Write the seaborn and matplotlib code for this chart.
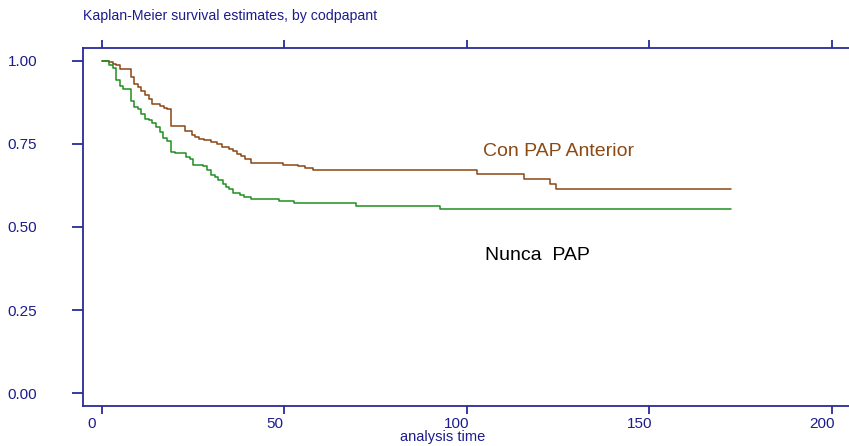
import matplotlib
matplotlib.use("Agg")
import matplotlib.pyplot as plt
import numpy as np
import pandas as pd
import seaborn as sns
from matplotlib import font_manager
from matplotlib.transforms import ScaledTranslation

# ---------------- data ----------------
group_names = ["Con PAP Anterior", "Nunca PAP"]
group_labels = ["Con PAP Anterior", "Nunca  PAP"]

con_time = [0, 2.0, 3.1, 3.8, 4.9, 7.9, 8.8, 9.9, 10.6, 11.9, 12.8, 13.7, 15.8,
            17.0, 17.9, 18.8, 22.7, 24.6, 25.6, 26.7, 27.9, 29.9, 31.6, 32.8,
            34.7, 35.8, 37.0, 38.1, 39.2, 40.9, 49.7, 53.6, 55.5, 57.7, 102.7,
            115.6, 122.7, 124.5]
con_surv = [1.0, 0.996, 0.992, 0.988, 0.976, 0.952, 0.931, 0.922, 0.910, 0.896,
            0.886, 0.870, 0.865, 0.859, 0.855, 0.803, 0.788, 0.778, 0.771, 0.765,
            0.761, 0.757, 0.751, 0.741, 0.734, 0.728, 0.721, 0.714, 0.704, 0.693,
            0.687, 0.683, 0.678, 0.672, 0.660, 0.645, 0.629, 0.613]

nunca_time = [0, 2.0, 3.1, 3.8, 4.9, 5.8, 7.9, 8.8, 9.9, 10.8, 11.9, 12.8, 13.8,
              14.9, 15.8, 16.7, 17.8, 18.8, 19.9, 22.9, 24.0, 24.9, 27.8, 28.7,
              29.9, 30.9, 31.7, 33.1, 34.0, 34.9, 36.0, 37.9, 39.0, 40.8, 48.6,
              52.7, 69.7, 92.7]
nunca_surv = [1.0, 0.989, 0.980, 0.942, 0.926, 0.916, 0.880, 0.862, 0.855, 0.840,
              0.825, 0.821, 0.812, 0.800, 0.786, 0.769, 0.759, 0.726, 0.723, 0.711,
              0.704, 0.688, 0.683, 0.671, 0.656, 0.651, 0.641, 0.629, 0.621, 0.614,
              0.603, 0.596, 0.591, 0.584, 0.578, 0.571, 0.564, 0.553]

end_time = 172.3  # last follow-up time for both curves

x_ticks = [0, 50, 100, 150, 200]
y_ticks = [0.00, 0.25, 0.50, 0.75, 1.00]

title_text = "Kaplan-Meier survival estimates, by codpapant"
xlabel_text = "analysis time"

# ---------------- styling ----------------
navy_text = "#1c1c8c"
navy_line = "#2a2a9a"
colors = {"Con PAP Anterior": "#8b4513", "Nunca PAP": "#1f8f1f"}
label_colors = {"Con PAP Anterior": "#8b4a14", "Nunca PAP": "#000000"}

sns.set_style("white")
avail = {f.name for f in font_manager.fontManager.ttflist}
narrow = "Liberation Sans Narrow" if "Liberation Sans Narrow" in avail else "Liberation Sans"
plt.rcParams["font.family"] = ["Liberation Sans", "DejaVu Sans"]

# ---------------- build table ----------------
rows = []
for name, t, s in [("Con PAP Anterior", con_time, con_surv),
                   ("Nunca PAP", nunca_time, nunca_surv)]:
    tt = list(t) + [end_time]
    ss = list(s) + [s[-1]]
    for a, b in zip(tt, ss):
        rows.append({"time": a, "surv": b, "group": name})
df = pd.DataFrame(rows)

W, H = 849, 446
fig = plt.figure(figsize=(W / 100, H / 100), dpi=100)
ax = fig.add_axes([83 / W, 1 - 406 / H, (W - 83) / W, (406 - 48) / H])

sns.lineplot(data=df, x="time", y="surv", hue="group", palette=colors,
             estimator=None, sort=False, drawstyle="steps-post",
             legend=False, linewidth=1.1, ax=ax)

ax.set_xlim(-5.2, 204.7)
ax.set_ylim(-0.039, 1.039)
ax.set_xticks(x_ticks)
ax.set_yticks(y_ticks)
ax.set_yticklabels([f"{v:.2f}" for v in y_ticks])
ax.set_xticklabels([str(v) for v in x_ticks])

for side in ["left", "top", "bottom"]:
    ax.spines[side].set_visible(True)
    ax.spines[side].set_color(navy_line)
    ax.spines[side].set_linewidth(1.3)
ax.spines["right"].set_visible(False)

ax.tick_params(axis="y", direction="out", length=8, width=1.3, color=navy_line,
               labelcolor=navy_text, labelsize=11, pad=25, left=True)
ax.tick_params(axis="x", which="both", direction="out", width=1.3, color=navy_line,
               labelcolor=navy_text, labelsize=11, pad=2, bottom=True, top=True,
               labeltop=False)
ax.tick_params(axis="x", length=6)
for lab in ax.get_xticklabels() + ax.get_yticklabels():
    lab.set_fontfamily(narrow)
offset = ScaledTranslation(-10 / 100, 0, fig.dpi_scale_trans)
for lab in ax.get_xticklabels():
    lab.set_transform(lab.get_transform() + offset)

ax.set_xlabel(xlabel_text, color=navy_text, fontsize=10.5, family=narrow)
ax.xaxis.set_label_coords((443 - 83) / (W - 83), (406 - 437) / 358)
ax.xaxis.label.set_va("center")
ax.set_ylabel("")

fig.text(83 / W, 1 - 16 / H, title_text, color=navy_text, fontsize=10.2,
         ha="left", va="center")

ax.text(104.4, 0.726, group_labels[0], color=label_colors["Con PAP Anterior"],
        fontsize=14, ha="left", va="center")
ax.text(104.9, 0.414, group_labels[1], color=label_colors["Nunca PAP"],
        fontsize=14, ha="left", va="center")

fig.savefig("out.png", dpi=100)
